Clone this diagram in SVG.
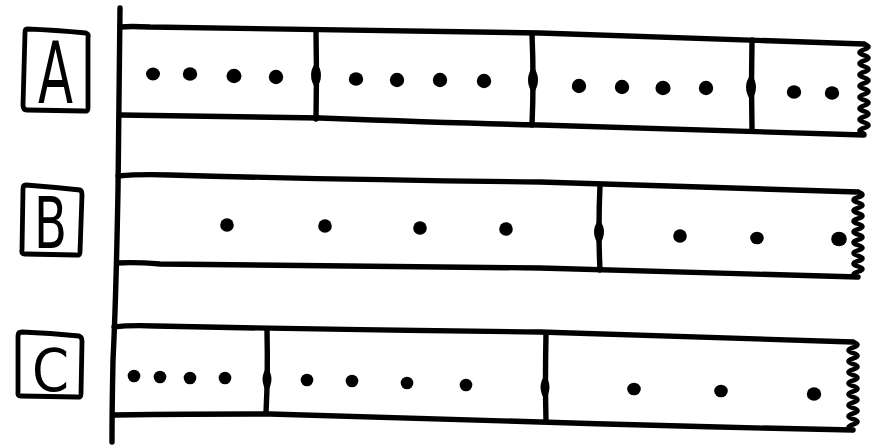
<svg xmlns="http://www.w3.org/2000/svg" width="881" height="447" viewBox="0 0 881 447">
<style>
.ln{fill:none;stroke:#000;stroke-width:5.4;stroke-linecap:round;stroke-linejoin:round}
.bx{fill:none;stroke:#000;stroke-width:4.8;stroke-linecap:round;stroke-linejoin:round}
.wv{fill:none;stroke:#000;stroke-width:4.6;stroke-linecap:round;stroke-linejoin:round}
.dot{fill:#000}
.lbl{font-family:"DejaVu Sans","Liberation Sans",sans-serif;fill:#000}
</style>
<rect width="881" height="447" fill="#fff"/>
<g id="axis"><path class="ln" d="M120,8 Q119,100 118,190 Q116,300 113,360 Q112,410 112,442"/></g>
<g id="label-A"><path class="bx" d="M27,29 Q55,30 86,33 Q89,34 88,38 L88,108 Q88,112 84,111 L27,110 Q23,110 23,105 L25,33 Q25,29 27,29 Z"/><text class="lbl" x="38" y="103" font-size="86" textLength="35" lengthAdjust="spacingAndGlyphs">A</text></g>
<g id="label-B"><path class="bx" d="M26,185 Q52,187 80,190 Q82,191 82,195 L80,252 Q80,256 76,255 L25,254 Q21,254 22,250 L23,189 Q23,185 26,185 Z"/><text class="lbl" x="34" y="248" font-size="71" textLength="33" lengthAdjust="spacingAndGlyphs">B</text></g>
<g id="label-C"><path class="bx" d="M22,332 Q50,333 79,336 Q82,337 82,341 L81,394 Q81,398 77,397 L21,396 Q17,396 18,392 L18,336 Q18,332 22,332 Z"/><text class="lbl" x="32" y="391" font-size="58" textLength="37" lengthAdjust="spacingAndGlyphs">C</text></g>
<g id="row-A">
<path class="ln" d="M120,27 Q130,26 150,27 Q300,30 540,33 Q700,38 864,44"/>
<path class="ln" d="M120,115 Q200,116 320,118 Q450,123 540,125 Q700,130 864,135"/>
<path class="wv" d="M864,44 q9 2.8 0 5.6 t0 5.6 t0 5.6 t0 5.6 t0 5.6 t0 5.6 t0 5.6 t0 5.6 t0 5.6 t0 5.6 t0 5.6 t0 5.6 t0 5.6 t0 5.6 t0 5.6 t0 5.6"/>
</g>
<g id="row-B">
<path class="ln" d="M118,176 Q140,174 170,175 Q350,180 540,182 Q700,187 858,192"/>
<path class="ln" d="M117,263 Q135,262 160,264 Q350,266 540,268 Q700,273 858,277"/>
<path class="wv" d="M858,192 q9 2.66 0 5.31 t0 5.31 t0 5.31 t0 5.31 t0 5.31 t0 5.31 t0 5.31 t0 5.31 t0 5.31 t0 5.31 t0 5.31 t0 5.31 t0 5.31 t0 5.31 t0 5.31 t0 5.31"/>
</g>
<g id="row-C">
<path class="ln" d="M114,327 Q130,325 155,326 Q350,330 540,332 Q700,337 853,342"/>
<path class="ln" d="M114,415 Q200,414 270,414 Q420,419 540,422 Q700,427 853,430"/>
<path class="wv" d="M853,342 q9 2.75 0 5.5 t0 5.5 t0 5.5 t0 5.5 t0 5.5 t0 5.5 t0 5.5 t0 5.5 t0 5.5 t0 5.5 t0 5.5 t0 5.5 t0 5.5 t0 5.5 t0 5.5 t0 5.5"/>
</g>
<g id="dividers">
<path class="ln" d="M316,30 Q317,75 316,119"/><path class="dot" d="M316,62 Q326,75 316,89 Q306,75 316,62 Z"/>
<path class="ln" d="M532,34 Q534,80 532,125"/><path class="dot" d="M533,66 Q543,80 533,94 Q523,80 533,66 Z"/>
<path class="ln" d="M752,40 Q751,85 752,129"/><path class="dot" d="M751,74 Q761,87 751,101 Q741,87 751,74 Z"/>
<path class="ln" d="M600,185 Q598,230 600,270"/><path class="dot" d="M599,219 Q609,232 599,245 Q589,232 599,219 Z"/>
<path class="ln" d="M267,331 Q268,375 266,413"/><path class="dot" d="M267,367 Q276,379 267,392 Q258,379 267,367 Z"/>
<path class="ln" d="M546,334 Q545,380 546,421"/><path class="dot" d="M545,375 Q554,387 545,400 Q536,387 545,375 Z"/>
</g>
<g id="dots-A" class="dot">
<ellipse cx="153" cy="74" rx="7" ry="6.5"/><ellipse cx="190" cy="74" rx="7.2" ry="6.8"/><ellipse cx="234" cy="76" rx="7.5" ry="7.2"/><ellipse cx="276" cy="77" rx="7.2" ry="7.2"/>
<ellipse cx="356" cy="79" rx="7.2" ry="6.8"/><ellipse cx="397" cy="80" rx="7.2" ry="7.2"/><ellipse cx="440" cy="80" rx="7.2" ry="7.2"/><ellipse cx="484" cy="81" rx="7.2" ry="7.2"/>
<ellipse cx="579" cy="86" rx="7.2" ry="7.2"/><ellipse cx="622" cy="87" rx="7.2" ry="7.2"/><ellipse cx="663" cy="88" rx="7.6" ry="7.2"/><ellipse cx="706" cy="88" rx="7.2" ry="7.2"/>
<ellipse cx="794" cy="92" rx="7.2" ry="6.8"/><ellipse cx="832" cy="93" rx="7.2" ry="6.8"/>
</g>
<g id="dots-B" class="dot">
<ellipse cx="227" cy="225" rx="6.8" ry="6.8"/><ellipse cx="325" cy="226" rx="6.8" ry="6.8"/><ellipse cx="420" cy="228" rx="6.8" ry="6.8"/><ellipse cx="506" cy="229" rx="6.8" ry="6.8"/>
<ellipse cx="680" cy="236" rx="6.8" ry="6.8"/><ellipse cx="757" cy="238" rx="6.8" ry="6.3"/><ellipse cx="839" cy="239" rx="7.8" ry="7.3"/>
</g>
<g id="dots-C" class="dot">
<ellipse cx="134" cy="376" rx="6.3" ry="6.3"/><ellipse cx="160" cy="377" rx="6.3" ry="6.3"/><ellipse cx="190" cy="378" rx="6.3" ry="6.3"/><ellipse cx="225" cy="378" rx="6.3" ry="6.3"/>
<ellipse cx="307" cy="380" rx="6.3" ry="6.3"/><ellipse cx="352" cy="381" rx="6.3" ry="6.3"/><ellipse cx="407" cy="383" rx="6.3" ry="6.3"/><ellipse cx="466" cy="385" rx="6.3" ry="6.3"/>
<ellipse cx="634" cy="389" rx="6.8" ry="6.3"/><ellipse cx="721" cy="391" rx="6.8" ry="6.3"/><ellipse cx="814" cy="394" rx="7.2" ry="6.8"/>
</g>
</svg>
